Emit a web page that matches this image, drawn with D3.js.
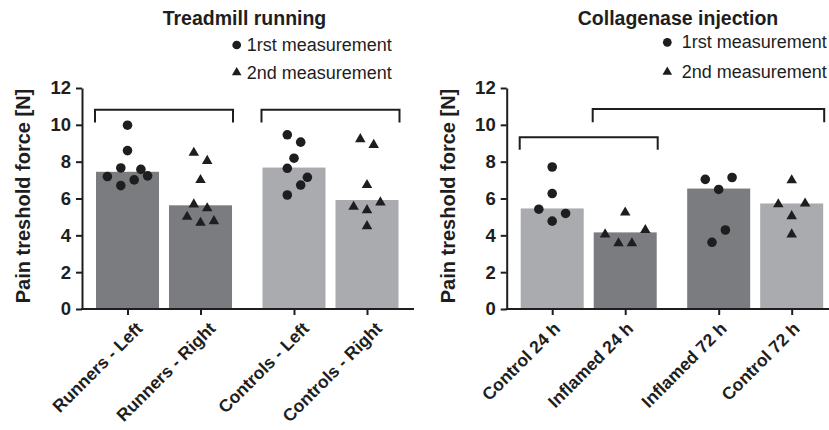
<!DOCTYPE html>
<html>
<head>
<meta charset="utf-8">
<script src="https://cdn.jsdelivr.net/npm/d3@7"></script>
<style>
body { margin: 0; background: #fff; }
svg { display: block; font-family: "Liberation Sans", Arial, Helvetica, sans-serif; }
</style>
</head>
<body>
<svg width="829" height="430"></svg>
<script>
/*global d3 */
var yTicks = [0, 2, 4, 6, 8, 10, 12];
var legendLabels = ["1rst measurement", "2nd measurement"];
var yLabel = "Pain treshold force [N]";

// left chart
var treadmillTitle = "Treadmill running";
var treadmillCategories = ["Runners - Left", "Runners - Right", "Controls - Left", "Controls - Right"];
var treadmillGroup = ["Runners", "Runners", "Controls", "Controls"];
var treadmillMeasurement = [0, 1, 0, 1];
var treadmillMeans = [7.45, 5.63, 7.68, 5.92];
var treadmillPoints = [
    [9.98, 8.6, 7.66, 7.58, 7.19, 6.7, 7.01, 7.23],
    [8.48, 8.04, 7.0, 5.68, 5.47, 5.01, 4.68, 4.77],
    [9.46, 9.06, 8.19, 7.64, 7.15, 6.73, 6.19],
    [9.22, 8.91, 6.73, 5.55, 5.79, 5.37, 4.5]
];
var treadmillJitter = [
    [0, 0, -1, 2, -3, -1, 1, 3],
    [-1, 1, 0, -1, 1, -2, 0, 2],
    [-1, 1, 0, -1, 2, 1, -1],
    [-1, 1, 0, -2, 2, 0, 0]
];
var treadmillBrackets = [[0, 1, 10.82, 10.12], [2, 3, 10.82, 10.12]];

// right chart
var collagenaseTitle = "Collagenase injection";
var collagenaseCategories = ["Control 24 h", "Inflamed 24 h", "Inflamed 72 h", "Control 72 h"];
var collagenaseGroup = ["Control", "Inflamed", "Inflamed", "Control"];
var collagenaseMeasurement = [0, 1, 0, 1];
var collagenaseMeans = [5.46, 4.16, 6.54, 5.73];
var collagenasePoints = [
    [7.71, 6.27, 5.42, 4.77, 5.19],
    [5.24, 4.05, 4.29, 3.57, 3.57],
    [7.04, 7.14, 6.49, 4.29, 3.62],
    [6.99, 5.69, 5.73, 5.04, 4.05]
];
var collagenaseJitter = [
    [0, 0, -2, 0, 2],
    [0, -3, 3, -1, 1],
    [-2, 2, 0, 1, -1],
    [0, -2, 2, 0, 0]
];
var collagenaseBrackets = [[0, 1, 9.33, 8.65], [1, 3, 10.86, 10.14]];

var DARK = "#7b7c80", LIGHT = "#aaabaf", INK = "#1e1e1e";
var barColor = d3.scaleOrdinal()
    .domain(["Runners", "Controls", "Control", "Inflamed"])
    .range([DARK, LIGHT, LIGHT, DARK]);
var shapes = [d3.symbolCircle, d3.symbolTriangle];
var shapeSize = [72, 48];

var y = d3.scaleLinear().domain([0, 12]).range([309, 88]);

var drawPanel = function (svg, d, lay) {
    "use strict";
    var g = svg.append("g");
    var outer = d3.scaleBand().domain([0, 1])
        .range([lay.originX + 9, lay.originX + 321.5]).paddingInner(0.123);
    var inner = d3.scaleBand().domain([0, 1])
        .range([0, outer.bandwidth()]).paddingInner(0.137).paddingOuter(0.0685);
    var barX = function (i) { return outer(Math.floor(i / 2)) + inner(i % 2); };
    var bw = inner.bandwidth();
    var cx = function (i) { return barX(i) + bw / 2; };

    // bars
    g.selectAll("rect.bar").data(d.means).enter().append("rect")
        .attr("class", "bar")
        .attr("x", function (v, i) { return barX(i); })
        .attr("width", bw)
        .attr("y", function (v) { return y(v); })
        .attr("height", function (v) { return y(0) - y(v); })
        .attr("fill", function (v, i) { return barColor(d.group[i]); });

    // points
    d.points.forEach(function (vals, i) {
        var sym = d3.symbol().type(shapes[d.measurement[i]]).size(shapeSize[d.measurement[i]]);
        g.selectAll("path.p" + i).data(vals).enter().append("path")
            .attr("class", "p" + i)
            .attr("d", sym)
            .attr("fill", INK)
            .attr("transform", function (v, j) {
                return "translate(" + (cx(i) + d.jitter[i][j] * 6.7) + "," + y(v) + ")";
            });
    });

    // brackets
    g.selectAll("path.br").data(d.brackets).enter().append("path")
        .attr("class", "br")
        .attr("fill", "none")
        .attr("stroke", INK)
        .attr("stroke-width", 2)
        .attr("d", function (b) {
            var x1 = barX(b[0]) - 1, x2 = barX(b[1]) + bw + 1;
            return "M" + x1 + "," + y(b[3]) + "V" + y(b[2]) + "H" + x2 + "V" + y(b[3]);
        });

    // y axis
    var ya = g.append("g")
        .attr("transform", "translate(" + lay.originX + ",0)")
        .call(d3.axisLeft(y).tickValues(yTicks).tickSize(6).tickSizeOuter(0).tickPadding(5));
    ya.select(".domain").attr("stroke", INK).attr("stroke-width", 2);
    ya.selectAll(".tick line").attr("stroke", INK).attr("stroke-width", 2);
    ya.selectAll(".tick text").attr("fill", INK)
        .style("font-size", "18.5px").style("font-weight", "bold")
        .style("font-family", "'Liberation Sans', Arial, sans-serif");

    // x axis
    var xs = d3.scaleOrdinal().domain(d.categories).range(d.categories.map(function (c, i) { return cx(i); }));
    var xa = g.append("g")
        .attr("transform", "translate(0," + y(0) + ")")
        .call(d3.axisBottom(xs).tickSize(6).tickSizeOuter(0));
    xa.select(".domain").remove();
    xa.append("line").attr("x1", lay.originX - 1).attr("x2", lay.originX + 332)
        .attr("stroke", INK).attr("stroke-width", 2);
    xa.selectAll(".tick line").attr("stroke", INK).attr("stroke-width", 2);
    xa.selectAll(".tick text")
        .attr("fill", INK)
        .attr("text-anchor", "end")
        .attr("y", 0).attr("dy", "0.7em")
        .attr("transform", "translate(" + lay.labelDx + ",12) rotate(-45)")
        .style("font-size", "17.5px").style("font-weight", "bold")
        .style("font-family", "'Liberation Sans', Arial, sans-serif");

    // y label
    g.append("text")
        .attr("transform", "translate(" + lay.yTitleX + ",196) rotate(-90)")
        .attr("text-anchor", "middle")
        .attr("fill", INK)
        .style("font-size", "20px").style("font-weight", "bold")
        .text(yLabel);

    // title
    g.append("text")
        .attr("x", lay.titleX).attr("y", 25)
        .attr("text-anchor", "middle")
        .attr("fill", INK)
        .style("font-size", "19.5px").style("font-weight", "bold")
        .text(d.title);

    // legend
    legendLabels.forEach(function (lab, k) {
        g.append("path")
            .attr("d", d3.symbol().type(shapes[k]).size(k === 0 ? 60 : 40))
            .attr("fill", INK)
            .attr("transform", "translate(" + lay.legendX + "," + lay.legendY[k] + ")");
        g.append("text")
            .attr("x", lay.legendX + lay.legendGap).attr("y", lay.legendY[k] + 6)
            .attr("fill", INK)
            .style("font-size", "18px")
            .text(lab);
    });
};

var svg = d3.select("svg");
drawPanel(svg, {
    title: treadmillTitle, categories: treadmillCategories, group: treadmillGroup,
    measurement: treadmillMeasurement, means: treadmillMeans, points: treadmillPoints,
    jitter: treadmillJitter, brackets: treadmillBrackets
}, {originX: 82, titleX: 244.5, legendX: 236.7, legendY: [45, 72.5], legendGap: 10, yTitleX: 30, labelDx: 7});

drawPanel(svg, {
    title: collagenaseTitle, categories: collagenaseCategories, group: collagenaseGroup,
    measurement: collagenaseMeasurement, means: collagenaseMeans, points: collagenasePoints,
    jitter: collagenaseJitter, brackets: collagenaseBrackets
}, {originX: 506.7, titleX: 678, legendX: 667.3, legendY: [42.3, 72], legendGap: 14.4, yTitleX: 455, labelDx: 0});
</script>
</body>
</html>
